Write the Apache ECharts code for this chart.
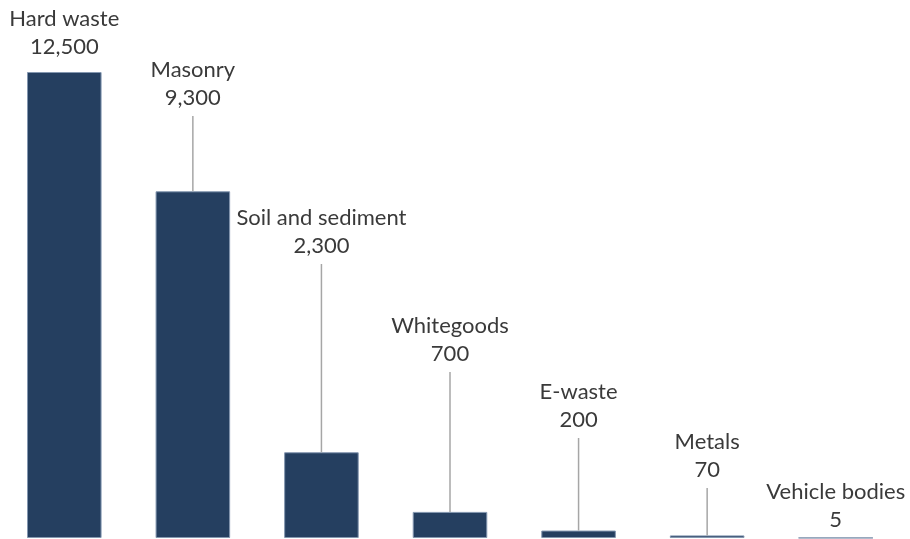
<!DOCTYPE html>
<html><head><meta charset="utf-8">
<script src="https://cdn.jsdelivr.net/npm/echarts@6/dist/echarts.min.js"></script>
<style>html,body{margin:0;padding:0;background:#fff}#c{width:910px;height:539px}</style>
</head><body><div id="c"></div>
<script>
const categories = ['Hard waste','Masonry','Soil and sediment','Whitegoods','E-waste','Metals','Vehicle bodies'];
const values = [12500, 9300, 2300, 700, 200, 70, 5];
// pixel y of the value line of each label (layout only)
const labelY = [47, 98, 246, 354, 420, 470, 520];

const fmt = v => v.toLocaleString('en-US');
const FONT = 'Lato';
const chart = echarts.init(document.getElementById('c'));
chart.setOption({
  animation: false,
  grid: {left: 0, right: 10, top: 72, bottom: 1},
  xAxis: {type: 'category', data: categories, show: false},
  yAxis: {type: 'value', min: 0, max: 12500, show: false, splitLine: {show: false}},
  series: [
    {
      type: 'bar', data: values, barCategoryGap: '42%',
      itemStyle: {color: '#253f60', borderColor: '#8497b0', borderWidth: 1}
    },
    {
      type: 'custom', clip: false, z: 5,
      data: values.map((v, i) => [i, v]),
      renderItem: function (params, api) {
        const i = api.value(0);
        const top = api.coord([i, api.value(1)]);
        const x = top[0];
        const vy = labelY[i];
        const children = [
          {type: 'text', style: {text: categories[i], x: x, y: vy - 28, align: 'center', verticalAlign: 'middle',
            font: '22px ' + FONT, fill: '#3a3a3a'}},
          {type: 'text', style: {text: fmt(values[i]), x: x, y: vy, align: 'center', verticalAlign: 'middle',
            font: '22px ' + FONT, fill: '#3a3a3a'}}
        ];
        const lineTop = vy + 18;
        if (top[1] - lineTop > 10) {
          children.push({type: 'line', shape: {x1: x, y1: lineTop, x2: x, y2: top[1]},
            style: {stroke: '#a6a6a6', lineWidth: 1.5}});
        }
        return {type: 'group', children: children};
      }
    }
  ]
});
</script></body></html>
